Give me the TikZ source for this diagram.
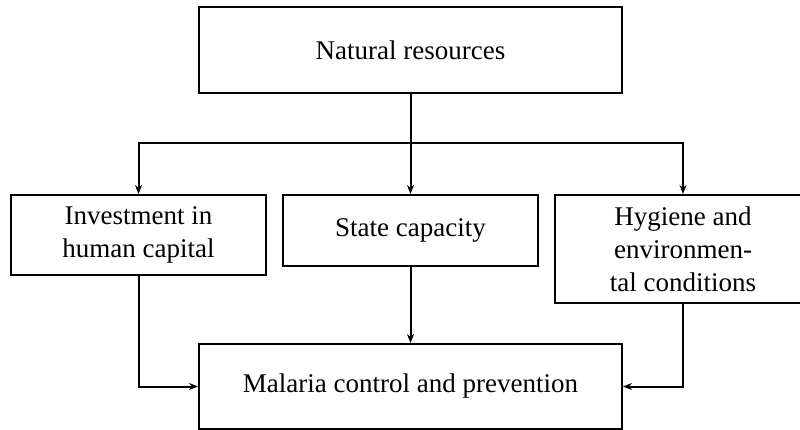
\documentclass[tikz,border=0pt]{standalone}
\usepackage{fontspec}
\setmainfont{Liberation Serif}
\usetikzlibrary{arrows.meta}
\begin{document}
\begin{tikzpicture}[x=1pt,y=-1pt,
  box/.style={draw, line width=2pt, inner sep=0pt, align=center,
    font=\fontsize{27}{33}\selectfont},
  arr/.style={line width=2pt, -{Stealth[length=9pt,width=7pt]}}]
\useasboundingbox (0,0) rectangle (800,430);
\node[box, minimum width=423pt, minimum height=86pt] (top) at (410.5,50) {Natural resources};
\node[box, minimum width=255pt, minimum height=80pt] (left) at (138.5,235) {Investment in\\human capital};
\node[box, minimum width=255pt, minimum height=71pt] (mid) at (410.5,230.5) {State capacity};
\node[box, minimum width=256pt, minimum height=108pt] (right) at (683,249) {Hygiene and\\environmen-\\tal conditions};
\node[box, minimum width=423pt, minimum height=85pt] (bot) at (410.5,386.5) {Malaria control and prevention};
\coordinate (bar) at (410.5,143);
\draw[arr] (top.south) -- (mid.north);
\draw[arr] (bar) -| (left.north);
\draw[arr] (bar) -| (right.north);
\draw[arr] (left.south) |- (bot.west);
\draw[arr] (mid.south) -- (bot.north);
\draw[arr] (right.south) |- (bot.east);
\end{tikzpicture}
\end{document}
